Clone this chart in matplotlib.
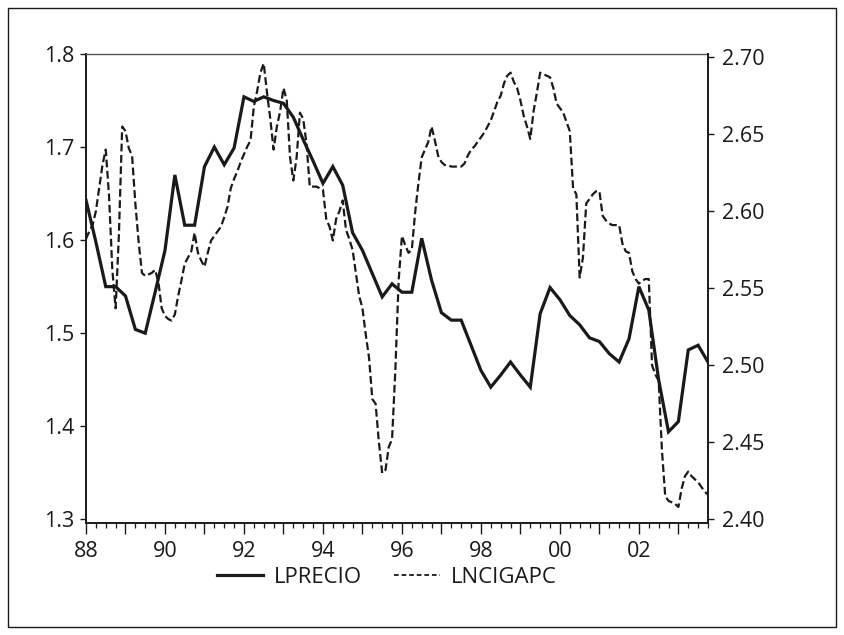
import matplotlib
matplotlib.use("Agg")
import matplotlib.pyplot as plt
import numpy as np
from matplotlib.lines import Line2D
from matplotlib.patches import Rectangle

plt.rcParams['font.family'] = ['Open Sans', 'DejaVu Sans']

START_YEAR = 1988

# LPRECIO, quarterly 1988Q1 - 2003Q4 (left axis)
lprecio = [
    1.643, 1.598, 1.550, 1.550,   # 1988
    1.540, 1.504, 1.500, 1.544,   # 1989
    1.589, 1.670, 1.616, 1.616,   # 1990
    1.679, 1.700, 1.681, 1.699,   # 1991
    1.754, 1.749, 1.754, 1.750,   # 1992
    1.747, 1.732, 1.708, 1.685,   # 1993
    1.661, 1.679, 1.659, 1.608,   # 1994
    1.589, 1.564, 1.539, 1.553,   # 1995
    1.544, 1.544, 1.602, 1.557,   # 1996
    1.522, 1.514, 1.514, 1.487,   # 1997
    1.460, 1.442, 1.455, 1.469,   # 1998
    1.455, 1.442, 1.521, 1.549,   # 1999
    1.536, 1.519, 1.509, 1.495,   # 2000
    1.491, 1.478, 1.469, 1.494,   # 2001
    1.550, 1.525, 1.450, 1.394,   # 2002
    1.405, 1.482, 1.487, 1.469,   # 2003
]

# LNCIGAPC, monthly 1988M01 - 2003M10 (right axis)
lncigapc = [
    2.582, 2.587, 2.591, 2.600, 2.615, 2.630, 2.640, 2.610, 2.562, 2.537, 2.585, 2.655,  # 1988
    2.652, 2.641, 2.636, 2.605, 2.580, 2.560, 2.558, 2.559, 2.560, 2.562, 2.554, 2.537,  # 1989
    2.532, 2.530, 2.529, 2.533, 2.545, 2.555, 2.566, 2.570, 2.574, 2.586, 2.573, 2.568,  # 1990
    2.564, 2.573, 2.581, 2.584, 2.587, 2.590, 2.596, 2.603, 2.615, 2.621, 2.626, 2.632,  # 1991
    2.637, 2.642, 2.646, 2.668, 2.678, 2.690, 2.696, 2.677, 2.660, 2.640, 2.655, 2.665,  # 1992
    2.680, 2.672, 2.635, 2.620, 2.635, 2.664, 2.660, 2.644, 2.616, 2.616, 2.616, 2.615,  # 1993
    2.614, 2.595, 2.590, 2.581, 2.595, 2.600, 2.607, 2.588, 2.582, 2.575, 2.560, 2.545,  # 1994
    2.537, 2.520, 2.505, 2.478, 2.475, 2.450, 2.430, 2.432, 2.447, 2.452, 2.497, 2.555,  # 1995
    2.584, 2.578, 2.573, 2.575, 2.599, 2.618, 2.635, 2.640, 2.645, 2.655, 2.646, 2.636,  # 1996
    2.632, 2.630, 2.630, 2.629, 2.629, 2.629, 2.629, 2.631, 2.636, 2.640, 2.642, 2.645,  # 1997
    2.648, 2.651, 2.655, 2.659, 2.665, 2.671, 2.675, 2.683, 2.688, 2.690, 2.684, 2.680,  # 1998
    2.672, 2.662, 2.655, 2.647, 2.665, 2.677, 2.690, 2.689, 2.688, 2.687, 2.680, 2.670,  # 1999
    2.667, 2.664, 2.658, 2.652, 2.615, 2.611, 2.557, 2.570, 2.605, 2.608, 2.611, 2.613,  # 2000
    2.613, 2.597, 2.594, 2.592, 2.591, 2.591, 2.591, 2.579, 2.574, 2.573, 2.561, 2.556,  # 2001
    2.553, 2.555, 2.556, 2.556, 2.500, 2.494, 2.490, 2.445, 2.415, 2.412, 2.411, 2.410,  # 2002
    2.408, 2.420, 2.428, 2.431, 2.428, 2.426, 2.424, 2.421, 2.418, 2.416,                # 2003
]

series_names = ["LPRECIO", "LNCIGAPC"]
labelled_years = ["88", "90", "92", "94", "96", "98", "00", "02"]
left_ticks = [1.3, 1.4, 1.5, 1.6, 1.7, 1.8]
right_ticks = [2.40, 2.45, 2.50, 2.55, 2.60, 2.65, 2.70]

INK = '#1a1a1a'
W, H = 844, 635

q_x = START_YEAR + np.arange(len(lprecio)) / 4.0
m_x = START_YEAR + np.arange(len(lncigapc)) / 12.0

fig = plt.figure(figsize=(W / 100, H / 100), dpi=100)
fig.patches.append(Rectangle((8 / W, 8 / H), (836 - 8) / W, (627 - 8) / H,
                             transform=fig.transFigure, fill=False,
                             lw=1.0, ec=INK, zorder=0))

ax_l, ax_r, ax_t, ax_b = 86, 708, 54, 523
ax = fig.add_axes([ax_l / W, (H - ax_b) / H, (ax_r - ax_l) / W, (ax_b - ax_t) / H])
ax2 = ax.twinx()

SOLID_LW = 2.3
DASH_LW = 1.6
DASH = (3.5, 1.6)

ax.plot(q_x, lprecio, color=INK, lw=SOLID_LW, solid_joinstyle='miter')
ax2.plot(m_x, lncigapc, color=INK, lw=DASH_LW, dashes=DASH,
         dash_capstyle='butt')

ax.set_xlim(START_YEAR, START_YEAR + (len(lncigapc) - 1) / 12.0)
ax.set_ylim(1.296, 1.8)
ax2.set_ylim(2.3976, 2.7021)

years = np.arange(START_YEAR, 2004)
xt_labels = []
for y in years:
    s = f"{y % 100:02d}"
    xt_labels.append(s if s in labelled_years else "")
ax.set_xticks(years)
ax.set_xticklabels(xt_labels)
ax.set_xticks(START_YEAR + np.arange(0, 64) / 4.0, minor=True)

ax.set_yticks(left_ticks)
ax.set_yticklabels([f"{v:.1f}" for v in left_ticks])
ax2.set_yticks(right_ticks)
ax2.set_yticklabels([f"{v:.2f}" for v in right_ticks])

FS = 15.5
ax.tick_params(axis='x', which='major', direction='out', length=8, width=1.0,
               pad=5, labelsize=FS, colors=INK)
ax.tick_params(axis='x', which='minor', direction='out', length=3.5, width=0.9,
               colors=INK)
ax.tick_params(axis='y', which='major', direction='out', length=4.5, width=1.0,
               pad=4, labelsize=FS, colors=INK)
ax2.tick_params(axis='y', which='major', direction='out', length=4.5, width=1.0,
                pad=5.5, labelsize=FS, colors=INK)

for a in (ax, ax2):
    for s in a.spines.values():
        s.set_linewidth(1.4)
        s.set_color(INK)
ax.spines['top'].set_color('#555555')
ax.spines['top'].set_linewidth(1.0)
ax2.spines['top'].set_visible(False)
ax2.spines['left'].set_visible(False)
ax2.spines['bottom'].set_visible(False)
ax.spines['right'].set_visible(False)

handles = [Line2D([], [], color=INK, lw=SOLID_LW),
           Line2D([], [], color=INK, lw=1.3, dashes=(2.6, 1.6))]
fig.legend(handles, series_names, loc='center', bbox_to_anchor=(0.458, 0.0913),
           ncol=2, frameon=False, fontsize=16, handlelength=2.1,
           handletextpad=0.45, columnspacing=1.45, labelcolor=INK)

fig.savefig("out.png", dpi=100)
